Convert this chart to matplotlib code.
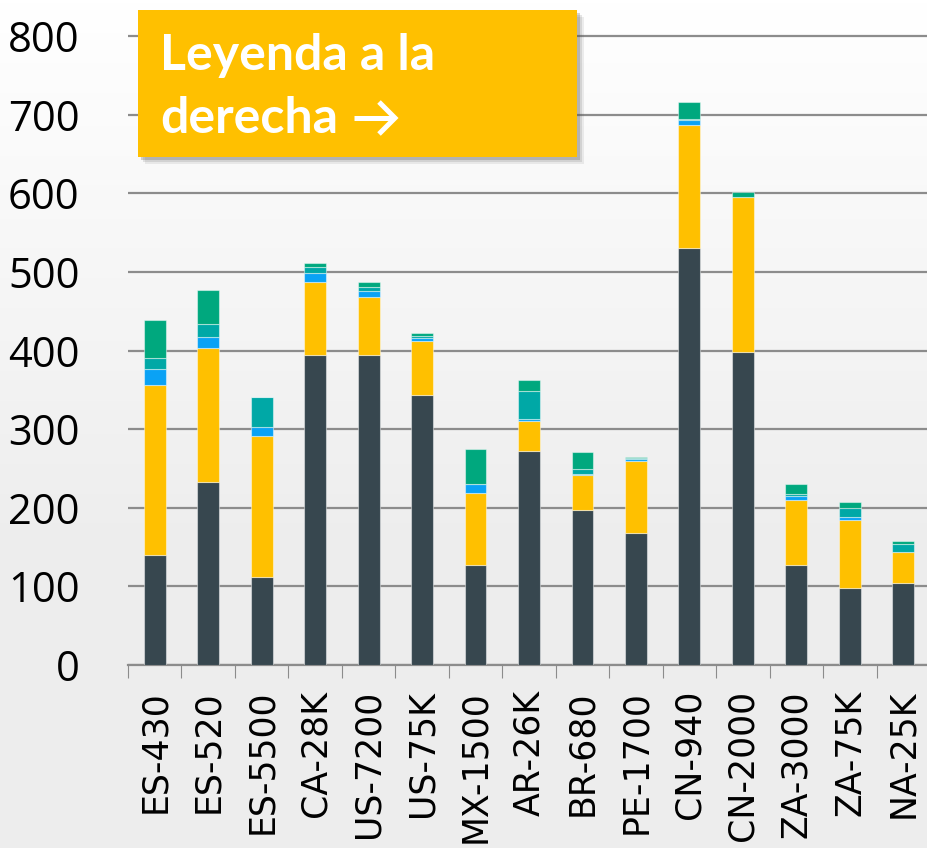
import numpy as np
import matplotlib.pyplot as plt
from matplotlib.patches import FancyBboxPatch
from matplotlib.lines import Line2D

# data (stacked, bottom to top)
sites = ['ES-430', 'ES-520', 'ES-5500', 'CA-28K', 'US-7200', 'US-75K', 'MX-1500',
         'AR-26K', 'BR-680', 'PE-1700', 'CN-940', 'CN-2000', 'ZA-3000', 'ZA-75K', 'NA-25K']
dark = [140, 233, 112, 394, 394, 344, 127, 272, 197, 168, 530, 398, 127, 98, 104]
yellow = [216, 170, 179, 93, 74, 68, 92, 38, 45, 92, 157, 197, 83, 86, 40]
blue = [21, 14, 12, 12, 8, 4, 11, 3, 1, 2, 6, 0, 5, 4, 0]
teal = [13, 17, 38, 7, 5, 2, 0, 36, 6, 1, 2, 0, 3, 12, 10]
green = [49, 43, 0, 5, 6, 4, 45, 14, 22, 2, 21, 7, 12, 7, 4]

series = [dark, yellow, blue, teal, green]
colors = ['#37474F', '#FFC000', '#0AA2F5', '#00A8A6', '#00A87E']
yticks = [0, 100, 200, 300, 400, 500, 600, 700, 800]

W, H = 928, 848
fig = plt.figure(figsize=(W / 100, H / 100), dpi=100)

# background: white fading to light grey at the bottom
bg = fig.add_axes([0, 0, 1, 1], zorder=-10)
grad = np.linspace(1.0, 0.0, 256).reshape(-1, 1)
mix = np.clip((grad - 0.35) / 0.65, 0, 1)[..., None]
img = mix * np.array([1.0, 1.0, 1.0]) + (1 - mix) * np.array([0.93, 0.93, 0.93])
bg.imshow(img, aspect='auto', extent=[0, 1, 0, 1])
bg.axis('off')

ymax = 810
left_px, y0_px, y800_px = 128, 665, 36
ax_h = (y0_px - y800_px) * ymax / 800
ax = fig.add_axes([left_px / W, 1 - y0_px / H, 802 / W, ax_h / H])
ax.patch.set_alpha(0)

x = np.arange(len(sites))
bottom = np.zeros(len(sites))
for vals, c in zip(series, colors):
    v = np.array(vals, dtype=float)
    ax.bar(x, v, bottom=bottom, width=0.41, color=c,
           edgecolor=(1, 1, 1, 0.45), linewidth=0.8, zorder=3)
    bottom += v

ax.set_xlim(-0.5, len(sites) - 0.5)
ax.set_ylim(0, ymax)
ax.set_yticks(yticks)
ax.set_yticklabels([str(t) for t in yticks], fontsize=30, family='Open Sans')
ax.tick_params(axis='y', length=0, pad=35)
ax.yaxis.grid(True, color='#8c8c8c', linewidth=1.6)
ax.set_axisbelow(True)

ax.set_xticks(x)
ax.set_xticklabels(sites, rotation=90, fontsize=25, family='DejaVu Sans',
                   va='top', ha='center')
ax.set_xticks(np.arange(len(sites) + 1) - 0.5, minor=True)
ax.tick_params(axis='x', which='major', length=0, pad=18)
ax.tick_params(axis='x', which='minor', length=9, width=0.8, color='#8c8c8c')

for s in ['top', 'right', 'left']:
    ax.spines[s].set_visible(False)
ax.spines['bottom'].set_color('#8c8c8c')
ax.spines['bottom'].set_linewidth(1.6)

# "legend to the right" callout box with drop shadow
bx, by, bw, bh = 138 / W, 1 - 157 / H, (577 - 138) / W, (157 - 10) / H
for i, a in enumerate([0.10, 0.15, 0.25]):
    off = 7 - 2 * i
    fig.patches.append(FancyBboxPatch((bx + off / W, by - off / H), bw, bh,
                                      boxstyle='square,pad=0', transform=fig.transFigure,
                                      facecolor='#555555', alpha=a, edgecolor='none', zorder=5))
box = FancyBboxPatch((bx, by), bw, bh, boxstyle='square,pad=0',
                     transform=fig.transFigure, facecolor='#FFC000',
                     edgecolor='none', zorder=6)
fig.patches.append(box)
txt_kw = dict(color='white', fontweight='bold', va='baseline', ha='left', zorder=7)
fig.text(160 / W, 1 - 70 / H, 'Leyenda a la', family='Lato', fontsize=36, **txt_kw)
fig.text(160 / W, 1 - 133 / H, 'derecha', family='Lato', fontsize=36, **txt_kw)

# chevron arrow after "derecha"
def px(xs, ys):
    return [v / W for v in xs], [1 - v / H for v in ys]

for xs, ys in [([354, 394], [118, 118]), ([379, 395, 379], [102, 118, 134])]:
    fx, fy = px(xs, ys)
    fig.lines.append(Line2D(fx, fy, transform=fig.transFigure, color='white',
                            linewidth=3.6, solid_capstyle='butt',
                            solid_joinstyle='miter', zorder=8))

fig.savefig('out.png', dpi=100)
